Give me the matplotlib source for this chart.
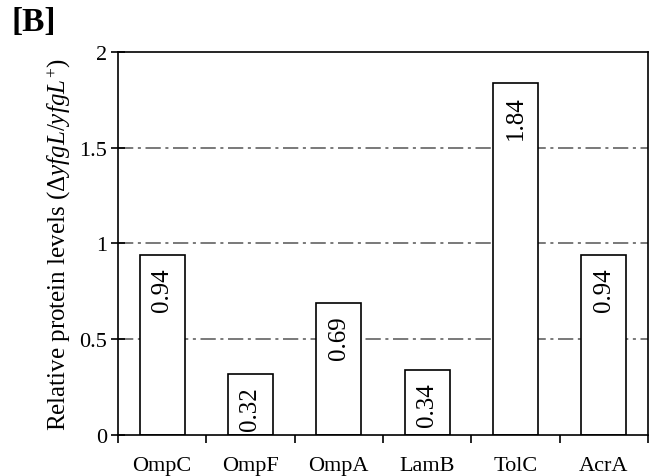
import numpy as np
import matplotlib
matplotlib.use("Agg")
import matplotlib.pyplot as plt

plt.rcParams['font.family'] = ['Liberation Serif', 'DejaVu Serif']
plt.rcParams['mathtext.fontset'] = 'custom'
plt.rcParams['mathtext.rm'] = 'Liberation Serif'
plt.rcParams['mathtext.it'] = 'Liberation Serif:italic'

proteins = ['OmpC', 'OmpF', 'OmpA', 'LamB', 'TolC', 'AcrA']
levels = [0.94, 0.32, 0.69, 0.34, 1.84, 0.94]
bar_labels = ['0.94', '0.32', '0.69', '0.34', '1.84', '0.94']
yticks = [0, 0.5, 1, 1.5, 2]
ytick_labels = ['0', '0.5', '1', '1.5', '2']

fig = plt.figure(figsize=(6.5, 4.77), dpi=100)
ax = fig.add_axes([0.1815, 0.086, 0.8155, 0.803])

x = np.arange(len(proteins))
# dash-dot reference lines behind the bars
for g in [0.5, 1, 1.5]:
    ax.axhline(g, color='#555555', lw=1.1, ls=(0, (10, 3, 2, 3)), zorder=1)

ax.bar(x, levels, width=0.51, color='white', edgecolor='black', lw=1.2, zorder=2)
for xi, v, lab in zip(x, levels, bar_labels):
    ax.annotate(lab, (xi, v), xytext=(0, -9), textcoords='offset points',
                rotation=90, ha='center', va='top', fontsize=18, zorder=3)

ax.set_xlim(-0.5, len(proteins) - 0.5)
ax.set_ylim(0, 2)
ax.set_yticks(yticks)
ax.set_yticklabels(ytick_labels, fontsize=16)
ax.tick_params(axis='y', direction='inout', length=10, width=1.2, pad=3)

ax.set_xticks(np.arange(len(proteins) + 1) - 0.5)
ax.set_xticklabels([])
ax.tick_params(axis='x', direction='out', length=6, width=1.2)
ax.set_xticks(x, minor=True)
ax.set_xticklabels(proteins, minor=True, fontsize=16)
ax.tick_params(axis='x', which='minor', length=0, pad=15)

for s in ax.spines.values():
    s.set_linewidth(1.2)

ax.set_ylabel('Relative protein levels (Δ$\\mathit{yfgL/yfgL}^{+}$)', fontsize=18, labelpad=4)
fig.text(0.018, 0.985, '[B]', fontsize=24, fontweight='bold', va='top', ha='left')

fig.savefig('out.png', dpi=100)
